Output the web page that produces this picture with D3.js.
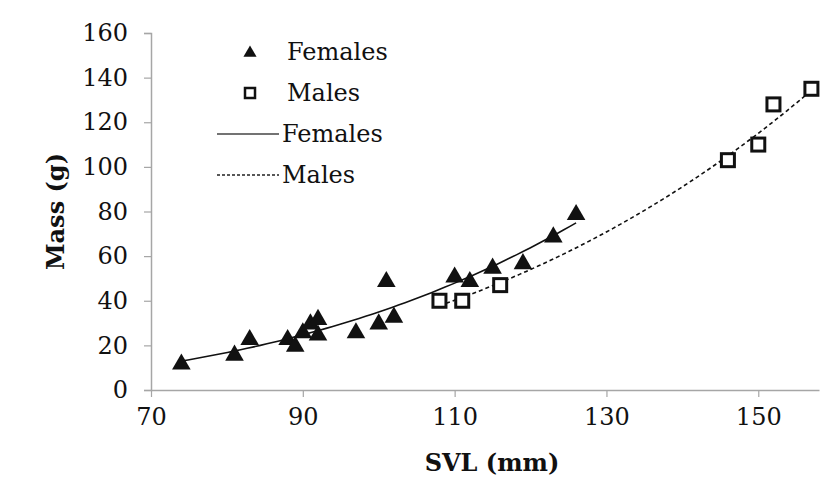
<!DOCTYPE html>
<html>
<head>
<meta charset="utf-8">
<script src="https://cdn.jsdelivr.net/npm/d3@7"></script>
<style>
  html, body { margin: 0; padding: 0; background: #fff; }
  svg text { font-family: 'DejaVu Serif', serif; }
</style>
</head>
<body>
<svg id="chart" width="820" height="480"></svg>
<script>
// Females: snout-vent length (mm) and body mass (g)
const femaleSVL  = [74, 81, 83, 88, 89, 90, 91, 92, 92, 97, 100, 101, 102, 110, 112, 115, 119, 123, 126];
const femaleMass = [12, 16, 23, 23, 20, 26, 30, 32, 25, 26, 30, 49, 33, 51, 49, 55, 57, 69, 79];

// Males
const maleSVL  = [108, 111, 116, 146, 150, 152, 157];
const maleMass = [40, 40, 47, 103, 110, 128, 135];

const xTicks = [70, 90, 110, 130, 150];
const yTicks = [0, 20, 40, 60, 80, 100, 120, 140, 160];

const svg = d3.select('#chart');
const plot = { left: 151, right: 819, top: 33, bottom: 390 };
const fontSize = 24;

const x = d3.scaleLinear().domain([70, 158]).range([plot.left, plot.right]);
const y = d3.scaleLinear().domain([0, 160]).range([plot.bottom, plot.top]);

const axisColor = '#a6a6a6';

// x axis
const gx = svg.append('g')
  .attr('transform', `translate(0,${plot.bottom})`)
  .call(d3.axisBottom(x).tickValues(xTicks).tickSize(7).tickPadding(11).tickSizeOuter(0))
  .attr('font-family', null);
gx.select('.domain').attr('stroke', axisColor).attr('stroke-width', 1.5);
gx.selectAll('.tick line').attr('stroke', axisColor).attr('stroke-width', 1.2);
gx.selectAll('.tick text').attr('font-size', fontSize).attr('fill', '#111');

// y axis
const gy = svg.append('g')
  .attr('transform', `translate(${plot.left},0)`)
  .call(d3.axisLeft(y).tickValues(yTicks).tickSize(7).tickPadding(16).tickSizeOuter(7))
  .attr('font-family', null);
gy.select('.domain').attr('stroke', axisColor).attr('stroke-width', 1.5);
gy.selectAll('.tick line').attr('stroke', axisColor).attr('stroke-width', 1.2);
gy.selectAll('.tick text').attr('font-size', fontSize).attr('fill', '#111');

// axis titles
svg.append('text')
  .attr('x', (plot.left + plot.right) / 2 + 7)
  .attr('y', 471)
  .attr('text-anchor', 'middle')
  .attr('font-size', fontSize).attr('font-weight', 'bold').attr('fill', '#111')
  .text('SVL (mm)');

svg.append('text')
  .attr('transform', `translate(64,${(plot.top + plot.bottom) / 2}) rotate(-90)`)
  .attr('text-anchor', 'middle')
  .attr('font-size', fontSize).attr('font-weight', 'bold').attr('fill', '#111')
  .text('Mass (g)');

// power trend line (least squares on log-log, like a spreadsheet trendline)
function powerFit(xs, ys) {
  const lx = xs.map(Math.log), ly = ys.map(Math.log);
  const mx = d3.mean(lx), my = d3.mean(ly);
  const b = d3.sum(lx, (v, i) => (v - mx) * (ly[i] - my)) / d3.sum(lx, v => (v - mx) * (v - mx));
  const a = Math.exp(my - b * mx);
  const lo = d3.min(xs), hi = d3.max(xs);
  return d3.range(0, 61).map(i => {
    const v = lo + (hi - lo) * i / 60;
    return [v, a * Math.pow(v, b)];
  });
}

const line = d3.line().x(d => x(d[0])).y(d => y(d[1]));

svg.append('path')
  .attr('d', line(powerFit(femaleSVL, femaleMass)))
  .attr('fill', 'none').attr('stroke', '#111').attr('stroke-width', 1.6);

svg.append('path')
  .attr('d', line(powerFit(maleSVL, maleMass)))
  .attr('fill', 'none').attr('stroke', '#111').attr('stroke-width', 1.6)
  .attr('stroke-dasharray', '4,3');

// markers
const tri = d3.symbol().type(d3.symbolTriangle).size(150);

svg.append('g').selectAll('path')
  .data(femaleSVL.map((v, i) => [v, femaleMass[i]]))
  .join('path')
  .attr('d', tri)
  .attr('transform', d => `translate(${x(d[0])},${y(d[1]) + 1})`)
  .attr('fill', '#111');

svg.append('g').selectAll('rect')
  .data(maleSVL.map((v, i) => [v, maleMass[i]]))
  .join('rect')
  .attr('x', d => x(d[0]) - 6.5)
  .attr('y', d => y(d[1]) - 6.5)
  .attr('width', 13).attr('height', 13)
  .attr('fill', '#fff').attr('stroke', '#111').attr('stroke-width', 3);

// legend
const legend = svg.append('g').attr('font-size', fontSize).attr('fill', '#111');
const rowY = [52, 93, 134, 175];
const labels = ['Females', 'Males', 'Females', 'Males'];

legend.append('path')
  .attr('d', d3.symbol().type(d3.symbolTriangle).size(75))
  .attr('transform', `translate(250,${rowY[0] + 1})`)
  .attr('fill', '#111');
legend.append('rect')
  .attr('x', 245).attr('y', rowY[1] - 5).attr('width', 10).attr('height', 10)
  .attr('fill', '#fff').attr('stroke', '#111').attr('stroke-width', 2.5);
legend.append('line')
  .attr('x1', 217).attr('x2', 279).attr('y1', rowY[2]).attr('y2', rowY[2])
  .attr('stroke', '#444').attr('stroke-width', 1.5);
legend.append('line')
  .attr('x1', 217).attr('x2', 279).attr('y1', rowY[3]).attr('y2', rowY[3])
  .attr('stroke', '#222').attr('stroke-width', 1.5).attr('stroke-dasharray', '3,2');

legend.selectAll('text')
  .data(labels)
  .join('text')
  .attr('x', (d, i) => i < 2 ? 287 : 282)
  .attr('y', (d, i) => rowY[i] + 8)
  .text(d => d);
</script>
</body>
</html>
